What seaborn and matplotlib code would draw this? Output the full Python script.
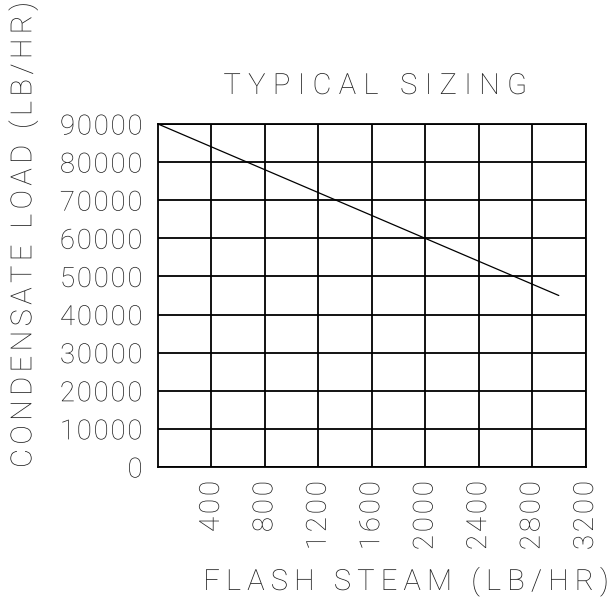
import matplotlib
matplotlib.use("Agg")
import numpy as np
import pandas as pd
import matplotlib.pyplot as plt
import seaborn as sns
from matplotlib.patheffects import AbstractPathEffect
from matplotlib.path import Path
from matplotlib.textpath import TextToPath

# ---- data ----
flash_steam = [0, 3000]
condensate_load = [90000, 45000]
x_ticks = [400, 800, 1200, 1600, 2000, 2400, 2800, 3200]
y_ticks = [0, 10000, 20000, 30000, 40000, 50000, 60000, 70000, 80000, 90000]
title_text = "TYPICAL SIZING"
x_label = "FLASH STEAM (LB/HR)"
y_label = "CONDENSATE LOAD (LB/HR)"

sns.set_theme(style="white")
plt.rcParams['font.family'] = ['Roboto', 'DejaVu Sans']
W = 'light'
TXT = '#1e1e1e'

_t2p = TextToPath()


class LetterSpacing(AbstractPathEffect):
    """Draw a text with extra tracking between its characters (CAD-like look)."""

    def __init__(self, text_artist, spacing_em, anchor='center'):
        super().__init__()
        self.t = text_artist
        self.sp = spacing_em
        self.anchor = anchor

    def draw_path(self, renderer, gc, tpath, affine, rgbFace=None):
        s = self.t.get_text()
        prop = self.t.get_fontproperties()
        codes = tpath.codes
        counts = []
        for ch in s:
            v, c = _t2p.get_text_path(prop, ch)
            c = np.asarray(c)
            counts.append(int(np.sum(c == Path.MOVETO)) if len(c) else 0)
        if codes is None or sum(counts) != int(np.sum(codes == Path.MOVETO)) or len(s) < 2:
            renderer.draw_path(gc, tpath, affine, rgbFace)
            return
        verts = np.array(tpath.vertices, dtype=float).copy()
        contour_id = np.cumsum(codes == Path.MOVETO) - 1
        char_of_contour = np.repeat(np.arange(len(s)), counts)
        unit = self.sp * _t2p.FONT_SCALE
        shift = char_of_contour[contour_id] * unit
        total = (len(s) - 1) * unit
        if self.anchor == 'center':
            shift = shift - total / 2
        elif self.anchor == 'right':
            shift = shift - total
        verts[:, 0] += shift
        renderer.draw_path(gc, Path(verts, codes), affine, rgbFace)


df = pd.DataFrame({"x": flash_steam, "y": condensate_load})

fig = plt.figure(figsize=(6.13, 5.98), dpi=100)
ax = fig.add_axes([158 / 613, 1 - 467 / 598, (585.5 - 158) / 613, (467 - 124) / 598])
sns.lineplot(data=df, x="x", y="y", ax=ax, color="black", linewidth=0.9)

ax.set_xlim(0, 3200)
ax.set_ylim(0, 90000)
ax.set_xticks(x_ticks)
ax.set_yticks(y_ticks)
xl = ax.set_xticklabels([str(v) for v in x_ticks], rotation=90, fontsize=20, fontweight=W, color=TXT)
yl = ax.set_yticklabels([str(v) for v in y_ticks], fontsize=20, fontweight=W, color=TXT)
ax.tick_params(axis='x', length=0, pad=10)
ax.tick_params(axis='y', length=0, pad=11)
for t in xl:
    t.set_path_effects([LetterSpacing(t, 0.10, 'right')])
for t in yl:
    t.set_path_effects([LetterSpacing(t, 0.06, 'right')])

ax.grid(True, color='black', linewidth=1.3)
for s in ax.spines.values():
    s.set_color('black')
    s.set_linewidth(1.3)
ax.set_xlabel("")
ax.set_ylabel("")

t1 = fig.text(375, 598 - 94, title_text, ha='center', va='baseline', fontsize=21,
              fontweight=W, transform=None, color=TXT)
t1.set_path_effects([LetterSpacing(t1, 0.25)])
t2 = fig.text(23, 598 - 235, y_label, ha='center', va='center', rotation=90,
              fontsize=21, fontweight=W, transform=None, color=TXT)
t2.set_path_effects([LetterSpacing(t2, 0.15)])
t3 = fig.text(406, 598 - 590, x_label, ha='center', va='baseline',
              fontsize=21, fontweight=W, transform=None, color=TXT)
t3.set_path_effects([LetterSpacing(t3, 0.21)])

fig.savefig("out.png", dpi=100, facecolor='white')
